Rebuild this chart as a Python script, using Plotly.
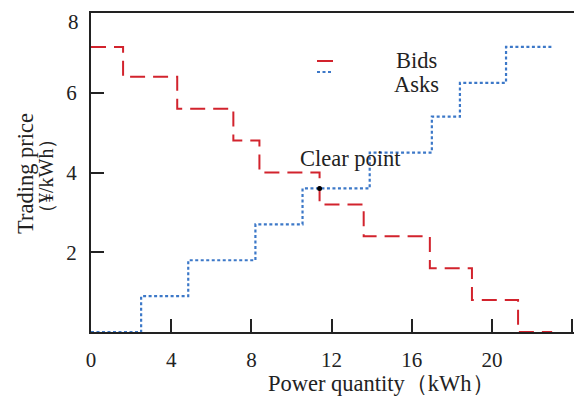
import plotly.graph_objects as go

# Data
bid_x = [0, 1.6, 4.3, 7.1, 8.4, 11.4, 13.6, 16.9, 19.0, 21.3, 23.0]
bid_y = [7.15, 6.4, 5.6, 4.8, 4.0, 3.2, 2.4, 1.6, 0.8, 0, 0]
ask_x = [0, 2.5, 4.85, 8.2, 10.55, 13.9, 17.0, 18.4, 20.7, 23.05]
ask_y = [0, 0.9, 1.8, 2.7, 3.6, 4.5, 5.4, 6.25, 7.15, 7.15]
clear_x = [11.4]
clear_y = [3.6]
x_ticks = [0, 4, 8, 12, 16, 20, 24]
x_tick_text = ["0", "4", "8", "12", "16", "20", ""]
y_ticks = [2, 4, 6, 8]
y_tick_text = ["2", "4", "6", ""]   # the "8" label sits a bit lower in the reference

RED = "#D2232D"
BLUE = "#3C78C8"
INK = "#222222"
FONT = "Liberation Serif, Times New Roman, serif"

fig = go.Figure()
fig.add_trace(go.Scatter(x=bid_x, y=bid_y, mode="lines", line_shape="hv",
                         line=dict(color=RED, width=2, dash="15px,8px"), name="Bids"))
fig.add_trace(go.Scatter(x=ask_x, y=ask_y, mode="lines", line_shape="hv",
                         line=dict(color=BLUE, width=2.2, dash="3px,2.5px"), name="Asks"))
fig.add_trace(go.Scatter(x=clear_x, y=clear_y, mode="markers",
                         marker=dict(color="black", size=5), name="Clear point"))

# page body has an 8px margin: compensate so the figure lands where the reference is
OFF = 8
W, H = 582 - OFF, 398 - OFF
ml, mr, mt, mb = 91 - OFF, 0, 13 - OFF, 66
pw, ph = W - ml - mr, H - mt - mb

def px2paper(px, py):
    # px, py in reference-image pixels
    return (px - OFF - ml) / pw, (H - mb - (py - OFF)) / ph

# custom legend
for (yy, col, dsh, w) in [(61, RED, "solid", 2), (72, BLUE, "3px,2.5px", 2.2)]:
    x0, y0 = px2paper(317, yy)
    x1, _ = px2paper(333, yy)
    fig.add_shape(type="line", xref="paper", yref="paper", x0=x0, x1=x1, y0=y0, y1=y0,
                  line=dict(color=col, width=w, dash=dsh))

TS = 22.5
annots = []
for txt, cx, cy in [("Bids", 416, 60), ("Asks", 416, 85)]:
    ax, ay = px2paper(cx, cy)
    annots.append(dict(text=txt, x=ax, y=ay, xref="paper", yref="paper", showarrow=False,
                       xanchor="center", yanchor="middle", font=dict(size=TS, color=INK, family=FONT)))
ax, ay = px2paper(381, 383)
annots.append(dict(text="Power quantity（kWh）", x=ax, y=ay, xref="paper", yref="paper",
                   showarrow=False, xanchor="center", yanchor="middle",
                   font=dict(size=TS, color=INK, family=FONT)))
ax, ay = px2paper(25, 174)
annots.append(dict(text="Trading price", x=ax, y=ay, xref="paper", yref="paper", textangle=-90,
                   showarrow=False, xanchor="center", yanchor="middle",
                   font=dict(size=TS, color=INK, family=FONT)))
ax, ay = px2paper(46, 176)
annots.append(dict(text="（¥/kWh）", x=ax, y=ay, xref="paper", yref="paper", textangle=-90,
                   showarrow=False, xanchor="center", yanchor="middle",
                   font=dict(size=20, color=INK, family=FONT)))
annots.append(dict(text="Clear point", x=clear_x[0], y=clear_y[0], xref="x", yref="y",
                   showarrow=False, xanchor="center", yanchor="middle", xshift=31, yshift=30,
                   font=dict(size=TS, color=INK, family=FONT)))
ax, ay = px2paper(73, 22)
annots.append(dict(text="8", x=ax, y=ay, xref="paper", yref="paper", showarrow=False,
                   xanchor="center", yanchor="middle", font=dict(size=21, color=INK, family=FONT)))

fig.update_layout(
    width=W, height=H, margin=dict(l=ml, r=mr, t=mt, b=mb, autoexpand=False),
    plot_bgcolor="white", paper_bgcolor="white", showlegend=False,
    annotations=annots,
    font=dict(family=FONT, size=21, color=INK),
)
fig.update_xaxes(range=[0, pw / 20.05], tickvals=x_ticks, ticktext=x_tick_text,
                 ticks="inside", ticklen=13, tickwidth=2, tickcolor=INK,
                 showline=True, linewidth=2, linecolor=INK, mirror=True,
                 showgrid=False, zeroline=False, ticklabelstandoff=8, automargin=False,
                 tickfont=dict(size=21, family=FONT, color=INK))
fig.update_yaxes(range=[0, 8], tickvals=y_ticks, ticktext=y_tick_text, ticks="inside",
                 ticklen=13, tickwidth=2,
                 tickcolor=INK, showline=True, linewidth=2, linecolor=INK,
                 showgrid=False, zeroline=False, ticklabelstandoff=8, automargin=False,
                 tickfont=dict(size=21, family=FONT, color=INK))

fig.write_html("out.html")
